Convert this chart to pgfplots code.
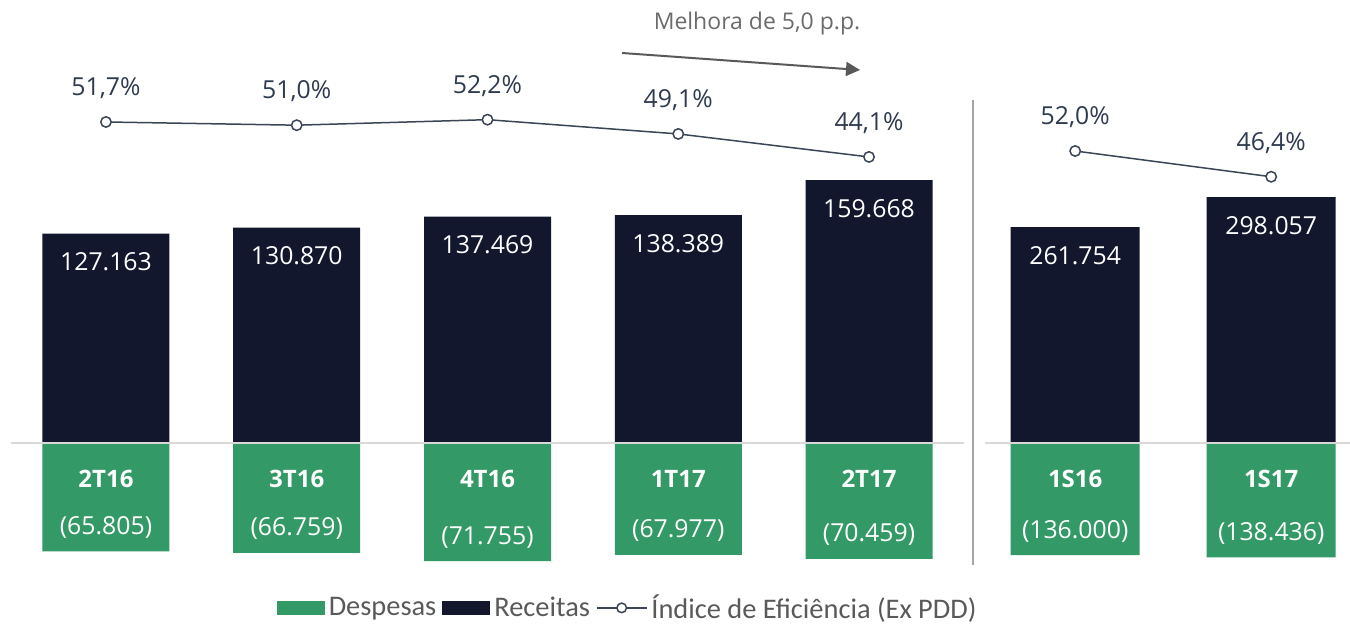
\documentclass[border=0pt]{standalone}
\usepackage{pgfplots}
\pgfplotsset{compat=1.18}
\usepackage{pgfplotstable}
\usepackage{fontspec}
\setmainfont{Open Sans}
\newfontfamily\legendfont{Carlito}
\usetikzlibrary{arrows.meta}

\definecolor{navy}{HTML}{12172E}
\definecolor{verde}{HTML}{339966}
\definecolor{linha}{HTML}{3A4556}
\definecolor{rotulo}{HTML}{2E3A4E}
\definecolor{base}{HTML}{D9D9D9}
\definecolor{legtxt}{HTML}{595959}

% valores em milhares
\pgfplotstableread{
x rec desp
0 127.163 65.805
1 130.870 66.759
2 137.469 71.755
3 138.389 67.977
4 159.668 70.459
}\trimestral
\pgfplotstableread{
x rec desp
0 261.754 136.000
1 298.057 138.436
}\semestral
\pgfplotstableread{
x ie
0 51.7
1 51.0
2 52.2
3 49.1
4 44.1
}\ietri
\pgfplotstableread{
x ie
0 52.0
1 46.4
}\iesem

\pgfplotsset{
  /pgf/number format/assume math mode=true,
  barras/.style={
    scale only axis, anchor=south west,
    axis x line*=middle, hide y axis, axis on top,
    x axis line style={base, line width=1pt},
    xtick=data, major tick length=0pt,
    xticklabel style={font=\fontsize{12}{14}\selectfont\bfseries, text=white, yshift=-10pt},
  },
  receita/.style={ybar, bar shift=0pt, bar width=#1, fill=navy, draw=none,
    nodes near coords={\pgfmathprintnumber[fixed,fixed zerofill,precision=3,assume math mode=true]{\pgfplotspointmeta}},
    every node near coord/.append style={anchor=north, text=white, yshift=-6pt,
      font=\fontsize{12.4}{14}\selectfont},
    legend image code/.code={\fill[navy] (0pt,-3.5pt) rectangle (24pt,3.5pt);}},
  despesa/.style={ybar, bar shift=0pt, bar width=#1, fill=verde, draw=none,
    nodes near coords={(\pgfmathprintnumber[fixed,fixed zerofill,precision=3,assume math mode=true]{\pgfplotspointmeta})},
    every node near coord/.append style={anchor=south, text=white, yshift=3pt,
      font=\fontsize{12.4}{14}\selectfont},
    legend image code/.code={\fill[verde] (0pt,-3.5pt) rectangle (24pt,3.5pt);}},
  indice/.style={linha, line width=0.75pt, mark=*, mark size=2.6pt,
    mark options={fill=white, draw=linha, line width=0.75pt},
    nodes near coords={\pgfmathprintnumber[fixed,fixed zerofill,precision=1,use comma,assume math mode=true]{\pgfplotspointmeta}\%},
    every node near coord/.append style={anchor=south, text=rotulo, yshift=8pt,
      font=\fontsize{12.4}{14}\selectfont}},
  leglinha/.style={linha, line width=0.75pt, mark=*, mark size=2.4pt, mark options={fill=white},
    legend image code/.code={\draw[mark repeat=2, mark phase=2, ##1] plot coordinates {(0pt,0pt) (12.5pt,0pt) (25pt,0pt)};}},
  linhas/.style={scale only axis, anchor=south west, hide axis, clip=false,
    ymin=40, ymax=55, height=34.5pt},
}

\begin{document}
\begin{tikzpicture}
\useasboundingbox (0,0) rectangle (675pt,313pt);

% trimestres
\begin{axis}[barras, at={(5.3pt,29.8pt)}, width=476.9pt, height=197.5pt,
    xmin=-0.5, xmax=4.5, ymin=-75, ymax=165,
    xticklabels={2T16,3T16,4T16,1T17,2T17},
    legend style={at={(0.648,-0.105)}, anchor=center, draw=none, fill=none,
      legend columns=-1, font=\legendfont\fontsize{14.2}{16}\selectfont, text=legtxt,
      inner sep=0pt, /tikz/every even column/.append style={column sep=1pt}},
  ]
\addplot[despesa=63.5pt, point meta=\thisrow{desp}] table[x=x, y expr=-\thisrow{desp}] {\trimestral};
\addlegendentry{Despesas}
\addplot[receita=63.5pt] table[x=x, y=rec] {\trimestral};
\addlegendentry{Receitas}
\addlegendimage{leglinha}
\addlegendentry{Índice de Eficiência (Ex PDD)}
\end{axis}

\begin{axis}[linhas, at={(5.3pt,225.1pt)}, width=476.9pt, xmin=-0.5, xmax=4.5]
\addplot[indice] table[x=x, y=ie] {\ietri};
\end{axis}

% semestres
\begin{axis}[barras, at={(492.5pt,29.6pt)}, width=182.3pt, height=189.75pt,
    xmin=-0.46, xmax=1.4, ymin=-150, ymax=310,
    xticklabels={1S16,1S17}]
\addplot[despesa=64.5pt, point meta=\thisrow{desp}] table[x=x, y expr=-\thisrow{desp}] {\semestral};
\addplot[receita=64.5pt] table[x=x, y=rec] {\semestral};
\end{axis}

\begin{axis}[linhas, at={(492.5pt,209.9pt)}, width=182.3pt, xmin=-0.46, xmax=1.4]
\addplot[indice] table[x=x, y=ie] {\iesem};
\end{axis}

% separador e anotacao
\draw[color=black!35, line width=0.9pt] (486.5pt,263pt) -- (486.5pt,30.5pt);
\draw[color=black!65, line width=1pt, -{Triangle[length=7pt,width=7pt]}] (311pt,286.5pt) -- (430pt,278pt);
\node[text=black!58, font=\fontsize{11.5}{13}\selectfont] at (378.5pt,301pt) {Melhora de 5,0 p.p.};
\end{tikzpicture}
\end{document}
